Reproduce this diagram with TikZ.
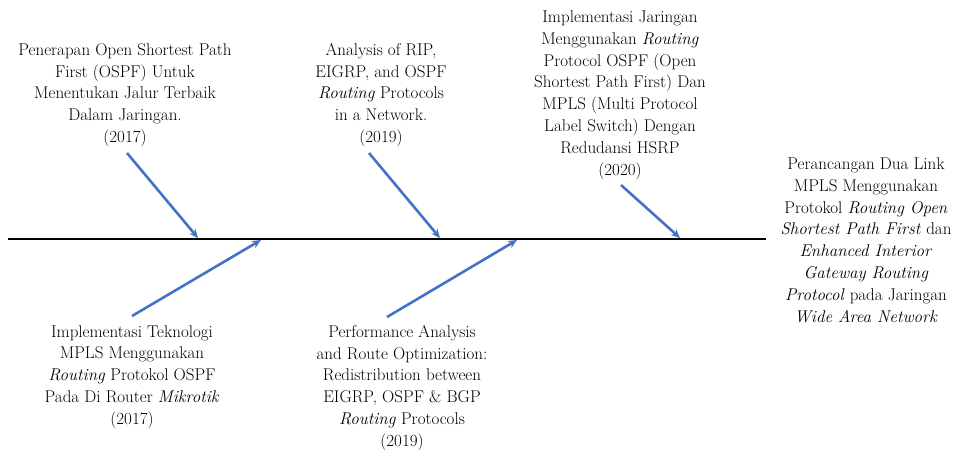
\documentclass[tikz,border=0pt]{standalone}
\usetikzlibrary{arrows.meta}
\definecolor{arrblue}{HTML}{4472C4}
\begin{document}
\begin{tikzpicture}[x=1pt,y=-1pt,
  lbl/.style={align=center,inner sep=0pt,font=\rmfamily\fontsize{17}{21.8}\selectfont},
  spine/.style={line width=2pt,black},
  bone/.style={line width=2.6pt,arrblue,-{Stealth[length=9pt,width=8pt]}}]
\useasboundingbox (0,0) rectangle (961,450);
% spine
\coordinate (s0) at (8,239);
\coordinate (s1) at (766,239);
\draw[spine] (s0) -- (s1);
% labels
\node[lbl] (t1) at (125,95) {Penerapan Open Shortest Path\\First (OSPF) Untuk\\Menentukan Jalur Terbaik\\Dalam Jaringan.\\(2017)};
\node[lbl] (t2) at (381,95) {Analysis of RIP,\\EIGRP, and OSPF\\\textit{Routing} Protocols\\in a Network.\\(2019)};
\node[lbl] (t3) at (620,95) {Implementasi Jaringan\\Menggunakan \textit{Routing}\\Protocol OSPF (Open\\Shortest Path First) Dan\\MPLS (Multi Protocol\\Label Switch) Dengan\\Redudansi HSRP\\(2020)};
\node[lbl] (t4) at (866,240) {Perancangan Dua Link\\MPLS Menggunakan\\Protokol \textit{Routing Open}\\\textit{Shortest Path First} dan\\\textit{Enhanced Interior}\\\textit{Gateway Routing}\\\textit{Protocol} pada Jaringan\\\textit{Wide Area Network}};
\node[lbl] (t5) at (132,377) {Implementasi Teknologi\\MPLS Menggunakan\\\textit{Routing} Protokol OSPF\\Pada Di Router \textit{Mikrotik}\\(2017)};
\node[lbl] (t6) at (402,388) {Performance Analysis\\and Route Optimization:\\Redistribution between\\EIGRP, OSPF \& BGP\\\textit{Routing} Protocols\\(2019)};
% arrow ends
\coordinate (a1s) at (127,153); \coordinate (a1e) at (198,238);
\coordinate (a2s) at (132,316); \coordinate (a2e) at (261,240);
\coordinate (a3s) at (369,153); \coordinate (a3e) at (440,238);
\coordinate (a4s) at (387,317); \coordinate (a4e) at (517,240);
\coordinate (a5s) at (621,185); \coordinate (a5e) at (680,238);
\draw[bone] (a1s) -- (a1e);
\draw[bone] (a2s) -- (a2e);
\draw[bone] (a3s) -- (a3e);
\draw[bone] (a4s) -- (a4e);
\draw[bone] (a5s) -- (a5e);
\end{tikzpicture}
\end{document}
